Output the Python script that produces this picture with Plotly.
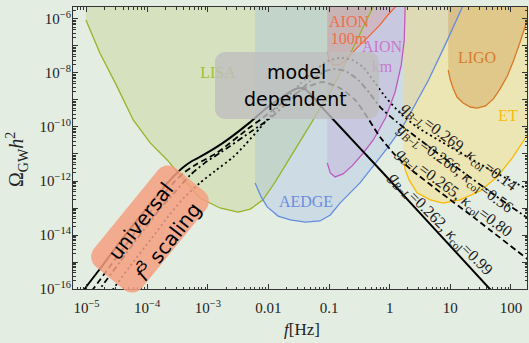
import math
import plotly.graph_objects as go

# ---------------------------------------------------------------
# Curves are stored as log10(f / Hz) and log10(Omega_GW h^2)
# ---------------------------------------------------------------

# detector power-law sensitivity curves
LISA_LOGF = [-5.01, -4.78, -4.51, -4.23, -3.95, -3.67, -3.38, -3.13, -2.80, -2.50,
             -2.30, -2.09, -1.89, -1.64, -1.31, -0.98, -0.62, -0.31, -0.22]
LISA_LOGOM = [-6.04, -7.26, -8.44, -9.74, -10.59, -11.22, -12.00, -12.63, -13.00, -13.15,
              -13.04, -12.70, -12.04, -11.11, -9.93, -8.70, -7.15, -5.67, -5.30]

AEDGE_LOGF = [-2.22, -2.12, -2.02, -1.84, -1.64, -1.39, -1.15, -0.98, -0.82, -0.65,
              -0.49, -0.04, 0.21, 0.37, 0.64, 0.92, 1.20, 1.25]
AEDGE_LOGOM = [-12.07, -12.59, -12.96, -13.30, -13.44, -13.52, -13.48, -13.26, -12.82, -12.44,
               -12.07, -10.78, -10.00, -9.37, -8.26, -6.93, -5.56, -5.30]

AION_KM_LOGF = [-1.03, -0.98, -0.90, -0.77, -0.62, -0.45, -0.27, -0.07, 0.09, 0.19, 0.24, 0.256, 0.256]
AION_KM_LOGOM = [-11.33, -11.70, -11.85, -11.74, -11.44, -11.00, -10.48, -9.67, -8.70, -7.70, -6.78, -5.56, -5.30]

AION_100M_LOGF = [-1.03, -1.00, -0.93, -0.82, -0.69, -0.54, -0.37, -0.16, -0.03, 0.09, 0.17]
AION_100M_LOGOM = [-7.22, -7.52, -7.70, -7.70, -7.44, -7.07, -6.70, -6.22, -5.85, -5.56, -5.30]

ET_LOGF = [0.223, 0.256, 0.32, 0.45, 0.67, 0.88, 1.16, 1.49, 1.77, 2.02, 2.27, 2.40]
ET_LOGOM = [-11.15, -11.59, -11.96, -12.44, -12.70, -12.82, -12.70, -12.37, -11.85, -11.15, -10.30, -9.82]

LIGO_LOGF = [0.965, 1.00, 1.05, 1.11, 1.21, 1.33, 1.44, 1.58, 1.71, 1.82, 1.94, 2.04, 2.15, 2.27, 2.35]
LIGO_LOGOM = [-7.89, -8.26, -8.59, -8.89, -9.11, -9.26, -9.30, -9.22, -8.96, -8.59, -8.11, -7.56, -6.85, -6.07, -5.48]

# GW spectra for four benchmark points
SPEC_099_LOGF = [-5.19, -5.03, -4.78, -4.45, -3.95, -3.75, -3.59, -3.42, -3.26, -3.13, -2.75, -2.30, -2.01,
                 -1.72, -1.59, -1.48, -1.38, -1.26, -1.15, -0.97, -0.14, 1.68, 1.91]
SPEC_099_LOGOM = [-16.63, -16.00, -15.26, -14.26, -12.85, -12.30, -11.89, -11.52, -11.26, -11.11, -10.59, -9.82, -9.26,
                  -8.82, -8.63, -8.56, -8.63, -8.89, -9.19, -9.63, -11.63, -16.07, -16.63]

SPEC_080_LOGF = [-5.11, -4.89, -4.61, -4.28, -3.95, -3.71, -3.54, -3.38, -3.18, -2.85, -2.30, -2.14, -1.64,
                 -1.39, -1.11, -0.82, -0.57, -0.36, -0.16, 0.09, 0.36, 0.83, 1.44, 2.27, 2.48]
SPEC_080_LOGOM = [-16.63, -16.00, -15.15, -14.15, -13.15, -12.44, -12.00, -11.67, -11.37, -10.96, -10.00, -9.74, -8.89,
                  -8.56, -8.33, -8.56, -9.00, -9.67, -10.37, -11.04, -11.59, -12.41, -13.44, -14.89, -15.26]

SPEC_056_LOGF = [-4.98, -4.78, -4.45, -4.12, -3.79, -3.54, -3.29, -3.05, -2.80, -2.30, -1.97, -1.64, -1.31,
                 -1.06, -0.90, -0.73, -0.52, -0.32, -0.16, 0.12, 0.50, 1.16, 1.82, 2.27, 2.48]
SPEC_056_LOGOM = [-16.60, -16.00, -15.00, -14.00, -13.04, -12.41, -11.78, -11.33, -10.96, -10.19, -9.67, -9.00, -8.30,
                  -7.93, -7.85, -7.93, -8.26, -8.78, -9.26, -9.82, -10.48, -11.59, -12.67, -13.37, -13.74]

SPEC_014_LOGF = [-4.71, -4.56, -4.28, -3.95, -3.62, -3.38, -3.13, -2.88, -2.58, -2.39, -2.14, -1.81, -1.48,
                 -1.23, -1.02, -0.82, -0.62, -0.44, -0.24, -0.07, 0.17, 0.45, 1.00, 1.66, 2.30, 2.57]
SPEC_014_LOGOM = [-16.48, -16.00, -15.15, -14.19, -13.22, -12.59, -12.07, -11.63, -11.11, -10.67, -10.04, -9.19, -8.41,
                  -7.89, -7.56, -7.44, -7.52, -7.78, -8.37, -8.89, -9.48, -10.00, -10.74, -11.59, -12.33, -12.63]

SPEC_LABELS = [
    "<i>g</i><sub><i>B</i>−<i>L</i></sub>=0.269, <i>κ</i><sub>col</sub>=0.14",
    "<i>g</i><sub><i>B</i>−<i>L</i></sub>=0.266, <i>κ</i><sub>col</sub>=0.56",
    "<i>g</i><sub><i>B</i>−<i>L</i></sub>=0.265, <i>κ</i><sub>col</sub>=0.80",
    "<i>g</i><sub><i>B</i>−<i>L</i></sub>=0.262, <i>κ</i><sub>col</sub>=0.99",
]

X_TICK_VALUES = [1e-5, 1e-4, 1e-3, 1e-2, 1e-1, 1, 10, 100]
X_TICK_TEXT = ["10<sup>−5</sup>", "10<sup>−4</sup>", "10<sup>−3</sup>", "0.01", "0.1", "1", "10", "100"]
Y_TICK_EXPONENTS = list(range(-16, -5))

# ---------------------------------------------------------------
# styling / layout helpers
# ---------------------------------------------------------------
BG = "rgb(228,237,226)"
SERIF = "Liberation Serif"
SANS = "DejaVu Sans"
W, H = 529, 343
PL, PR, PT, PB = 73, 527, 7, 289          # axes frame in pixels
XR = [-5.223, 2.264]
YR = [-16.0, -5.556]
TOP = -5.0                                  # upper closing edge of filled regions


def px2paper(px, py):
    return (px - PL) / (PR - PL), (PB - py) / (PB - PT)


def px2data(px, py):
    lx = XR[0] + (px - PL) / (PR - PL) * (XR[1] - XR[0])
    ly = YR[0] + (PB - py) / (PB - PT) * (YR[1] - YR[0])
    return 10 ** lx, 10 ** ly


def rounded_box(cx, cy, w, h, r, angle_deg, n=8):
    a = math.radians(angle_deg)
    ca, sa = math.cos(a), math.sin(a)
    hx, hy = w / 2 - r, h / 2 - r
    corners = [(hx, hy, 0), (-hx, hy, 90), (-hx, -hy, 180), (hx, -hy, 270)]
    pts = []
    for ox, oy, start in corners:
        for i in range(n + 1):
            t = math.radians(start + 90 * i / n)
            x, y = ox + r * math.cos(t), oy + r * math.sin(t)
            pts.append((cx + x * ca - y * sa, cy + x * sa + y * ca))
    path = ""
    for i, (x, y) in enumerate(pts):
        u, v = px2paper(x, y)
        path += ("M" if i == 0 else "L") + f"{u:.5f},{v:.5f} "
    return path + "Z"


fig = go.Figure()

regions = [
    (LISA_LOGF, LISA_LOGOM, "rgba(188,206,126,0.35)", "rgb(150,180,40)"),
    (AEDGE_LOGF, AEDGE_LOGOM, "rgba(151,180,233,0.30)", "rgb(100,140,225)"),
    (AION_KM_LOGF, AION_KM_LOGOM, "rgba(180,130,210,0.20)", "rgb(190,90,190)"),
    (AION_100M_LOGF, AION_100M_LOGOM, "rgba(235,120,90,0.20)", "rgb(240,100,50)"),
    (ET_LOGF, ET_LOGOM, "rgba(248,217,113,0.40)", "rgb(250,185,0)"),
    (LIGO_LOGF, LIGO_LOGOM, "rgba(202,146,64,0.36)", "rgb(215,120,35)"),
]

for lf, lo, fill, _ in regions:
    xs = [lf[0]] + lf + [lf[-1]]
    ys = [TOP] + lo + [TOP]
    fig.add_trace(go.Scatter(x=[10 ** v for v in xs], y=[10 ** v for v in ys],
                             mode="lines", fill="toself", fillcolor=fill,
                             line=dict(width=0), hoverinfo="skip"))
for lf, lo, _, col in regions:
    fig.add_trace(go.Scatter(x=[10 ** v for v in lf], y=[10 ** v for v in lo],
                             mode="lines", line=dict(color=col, width=1.3), hoverinfo="skip"))

# detector names (below the overlay boxes)
region_text = [
    ("LISA", 218, 74, "rgb(160,190,60)"),
    ("AION", 349, 23, "rgb(240,110,75)"),
    ("100m", 349, 40, "rgb(240,110,75)"),
    ("AION", 382, 48, "rgb(200,120,205)"),
    ("km", 382, 68, "rgb(200,120,205)"),
    ("LIGO", 477, 59, "rgb(215,125,45)"),
    ("ET", 508, 117, "rgb(248,188,10)"),
    ("AEDGE", 306, 203, "rgb(105,140,225)"),
]
for txt, px, py, col in region_text:
    x, y = px2data(px, py)
    fig.add_trace(go.Scatter(x=[x], y=[y], mode="text", text=[txt],
                             textposition="middle center",
                             textfont=dict(family=SERIF, size=16, color=col),
                             hoverinfo="skip"))

spectra = [
    (SPEC_099_LOGF, SPEC_099_LOGOM, "solid", 2.0),
    (SPEC_080_LOGF, SPEC_080_LOGOM, "6px,3.5px", 1.8),
    (SPEC_056_LOGF, SPEC_056_LOGOM, "6px,3px,2px,3px", 1.8),
    (SPEC_014_LOGF, SPEC_014_LOGOM, "2px,3px", 1.8),
]
for lf, lo, dash, wdt in spectra:
    fig.add_trace(go.Scatter(x=[10 ** v for v in lf], y=[10 ** v for v in lo],
                             mode="lines", line=dict(color="black", width=wdt, dash=dash, shape="spline", smoothing=0.6),
                             hoverinfo="skip"))

shapes = [
    dict(type="path", xref="paper", yref="paper", layer="above",
         path=rounded_box(297, 85.5, 164, 67, 10, 0),
         fillcolor="rgba(190,190,190,0.80)", line=dict(width=0)),
    dict(type="path", xref="paper", yref="paper", layer="above",
         path=rounded_box(150, 229, 127, 62, 13, -50.8),
         fillcolor="rgba(244,159,128,0.85)", line=dict(width=0)),
]

annotations = []


def note(text, px, py, size, family, angle=0, color="black"):
    u, v = px2paper(px, py)
    annotations.append(dict(text=text, x=u, y=v, xref="paper", yref="paper",
                            showarrow=False, xanchor="center", yanchor="middle",
                            textangle=angle, font=dict(family=family, size=size, color=color)))


note("model", 296, 72, 19, SANS)
note("dependent", 295, 99, 19, SANS)
note("universal", 141, 221, 20, SANS, -52)
note("<i>f</i><sup>3</sup> scaling", 167, 241, 20, SANS, -52)

for txt, (px, py, ang) in zip(SPEC_LABELS, [(459, 146, 36.5), (455, 168, 36.5), (454, 192, 36.5), (440, 224, 45)]):
    note(txt, px, py, 16, SERIF, ang, "#222")

note("Ω<sub>GW</sub><i>h</i><sup>2</sup>", 17, 160, 20, SERIF, -90, "#222")
note("<i>f</i>[Hz]", 302, 329, 17, SERIF, 0, "#222")

minor_vals = [k * 10.0 ** e for e in range(-17, 3) for k in range(2, 10)]
axis_common = dict(type="log", showgrid=False, zeroline=False, showline=True,
                   linecolor="#333", linewidth=1, mirror="ticks", ticks="inside",
                   ticklen=5, tickcolor="#333", tickwidth=1,
                   tickfont=dict(family=SERIF, size=15, color="#222"),
                   minor=dict(tickmode="array", tickvals=minor_vals, ticks="inside",
                              ticklen=2.5, tickcolor="#333", showgrid=False))

fig.update_layout(
    width=W, height=H,
    margin=dict(l=PL, r=W - PR, t=PT, b=H - PB),
    paper_bgcolor=BG, plot_bgcolor=BG,
    showlegend=False, hovermode=False,
    shapes=shapes, annotations=annotations,
    xaxis=dict(axis_common, range=XR, tickmode="array", tickvals=X_TICK_VALUES,
               ticktext=X_TICK_TEXT, ticklabelstandoff=5),
    yaxis=dict(axis_common, range=YR, tickmode="array",
               tickvals=[10.0 ** e for e in Y_TICK_EXPONENTS],
               ticktext=[f"10<sup>−{-e}</sup>" if e % 2 == 0 else "" for e in Y_TICK_EXPONENTS],
               ticklabelstandoff=-2),
)

fig.write_html("out.html")
